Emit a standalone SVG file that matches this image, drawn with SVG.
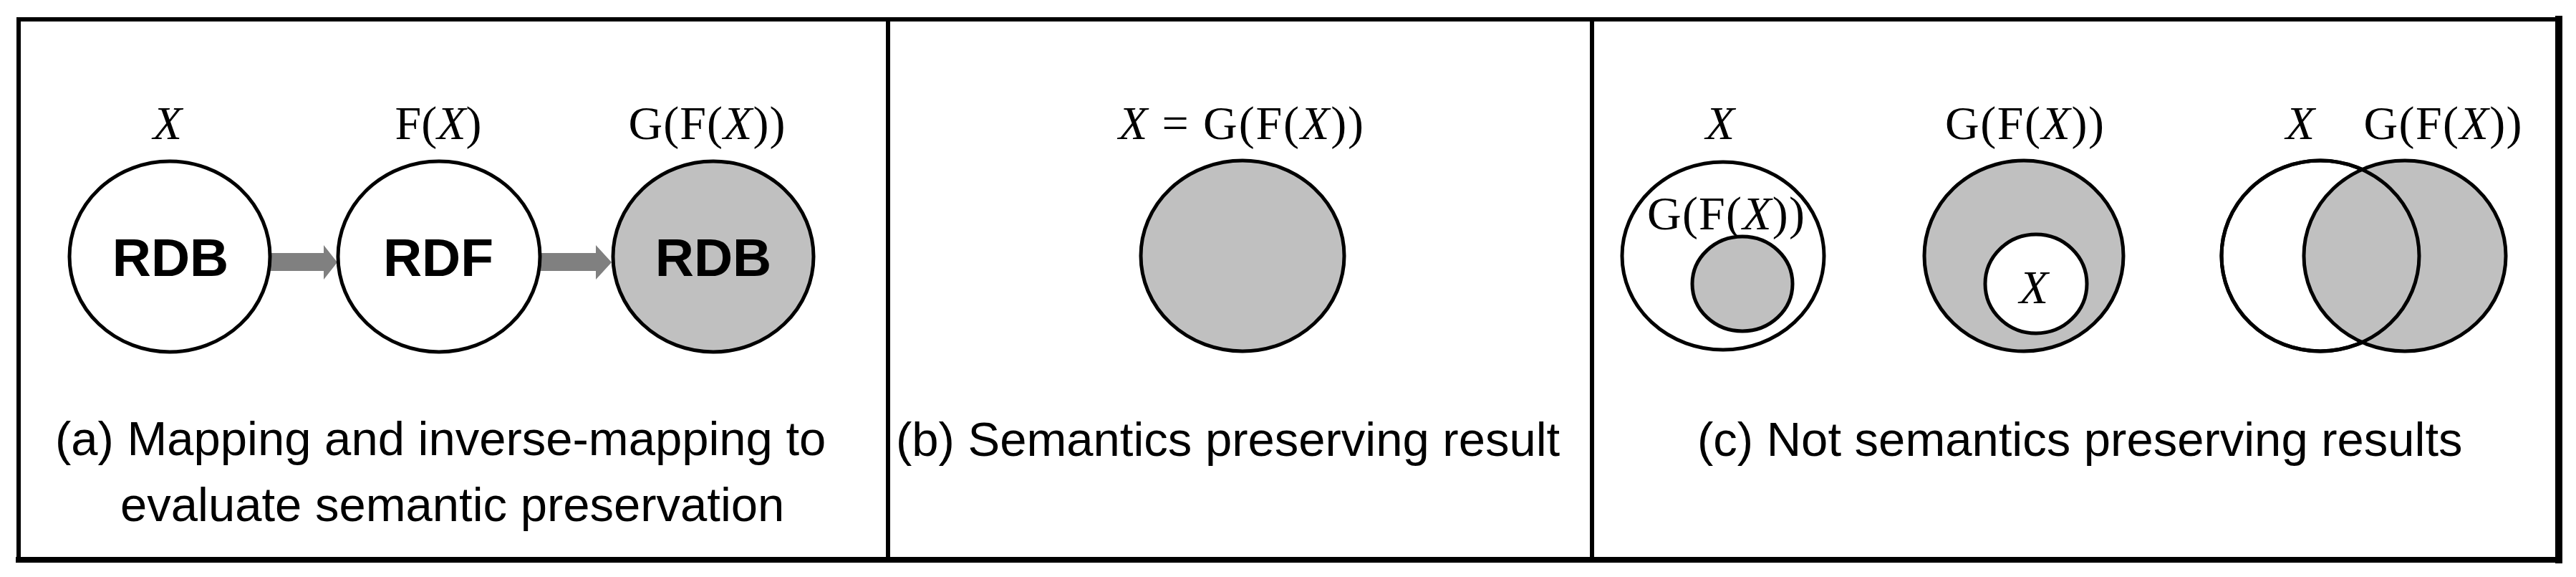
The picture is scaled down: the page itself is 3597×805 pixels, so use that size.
<svg xmlns="http://www.w3.org/2000/svg" width="3597" height="805" viewBox="0 0 3597 805">
<style>
.frame{fill:none;stroke:#000;stroke-linecap:square}
.c{stroke:#000;stroke-width:5}
.w{fill:#fff}
.g{fill:#c0c0c0}
.o{fill:none}
.lab{font-family:"Liberation Serif","Times New Roman",serif;font-size:66px;fill:#000;text-anchor:middle}
.it{font-style:italic}
.node{font-family:"Liberation Sans",Arial,sans-serif;font-weight:bold;font-size:75px;fill:#000;text-anchor:middle}
.cap{font-family:"Liberation Sans",Arial,sans-serif;font-size:67px;fill:#000}
.arr{fill:#808080}
</style>
<rect width="3597" height="805" fill="#fff"/>
<g id="frame" class="frame">
<line x1="26" y1="27" x2="3573" y2="27" stroke-width="6"/>
<line x1="26" y1="27" x2="26" y2="781" stroke-width="6"/>
<line x1="26" y1="781" x2="3573" y2="781" stroke-width="8"/>
<line x1="3573" y1="27" x2="3573" y2="781" stroke-width="10"/>
<line x1="1240" y1="27" x2="1240" y2="781" stroke-width="6"/>
<line x1="2223" y1="27" x2="2223" y2="781" stroke-width="6"/>
</g>
<g id="connectors">
<polygon class="arr" points="372,353 452,353 452,342 471,366 452,390 452,378 372,378"/>
<polygon class="arr" points="752,353 832,353 832,342 854,366 832,390 832,378 752,378"/>
</g>
<g id="node-a1">
<ellipse class="c w" cx="237" cy="358" rx="140" ry="133"/>
<text class="lab it" x="234" y="194">X</text>
<text class="node" x="238" y="385">RDB</text>
</g>
<g id="node-a2">
<ellipse class="c w" cx="613" cy="358" rx="141" ry="133"/>
<text class="lab" x="612" y="194">F(<tspan class="it">X</tspan>)</text>
<text class="node" x="612" y="385">RDF</text>
</g>
<g id="node-a3">
<ellipse class="c g" cx="996" cy="358" rx="140" ry="133"/>
<text class="lab" x="987" y="194" textLength="219" lengthAdjust="spacing">G(F(<tspan class="it">X</tspan>))</text>
<text class="node" x="996" y="385">RDB</text>
</g>
<g id="caption-a">
<text class="cap" x="77" y="635">(a) Mapping and inverse-mapping to</text>
<text class="cap" x="168" y="727">evaluate semantic preservation</text>
</g>
<g id="node-b">
<ellipse class="c g" cx="1735" cy="357" rx="142" ry="133"/>
<text class="lab" x="1733" y="194" textLength="342" lengthAdjust="spacing"><tspan class="it">X</tspan> = G(F(<tspan class="it">X</tspan>))</text>
</g>
<g id="caption-b">
<text class="cap" x="1251" y="636">(b) Semantics preserving result</text>
</g>
<g id="node-c1">
<ellipse class="c w" cx="2406" cy="357" rx="141" ry="131"/>
<text class="lab it" x="2402" y="194">X</text>
<text class="lab" x="2410" y="320" textLength="220" lengthAdjust="spacing">G(F(<tspan class="it">X</tspan>))</text>
<ellipse class="c g" cx="2433" cy="396" rx="70" ry="66"/>
</g>
<g id="node-c2">
<ellipse class="c g" cx="2826" cy="357" rx="139" ry="133"/>
<ellipse class="c w" cx="2843" cy="396" rx="71" ry="69"/>
<text class="lab it" x="2840" y="423">X</text>
<text class="lab" x="2827" y="194" textLength="222" lengthAdjust="spacing">G(F(<tspan class="it">X</tspan>))</text>
</g>
<g id="node-c3">
<ellipse class="c w" cx="3240" cy="357" rx="138" ry="133"/>
<ellipse class="c g" cx="3358" cy="357" rx="141" ry="133"/>
<ellipse class="c o" cx="3240" cy="357" rx="138" ry="133"/>
<text class="lab it" x="3212" y="194">X</text>
<text class="lab" x="3411" y="194" textLength="221" lengthAdjust="spacing">G(F(<tspan class="it">X</tspan>))</text>
</g>
<g id="caption-c">
<text class="cap" x="2370" y="636">(c) Not semantics preserving results</text>
</g>
</svg>
